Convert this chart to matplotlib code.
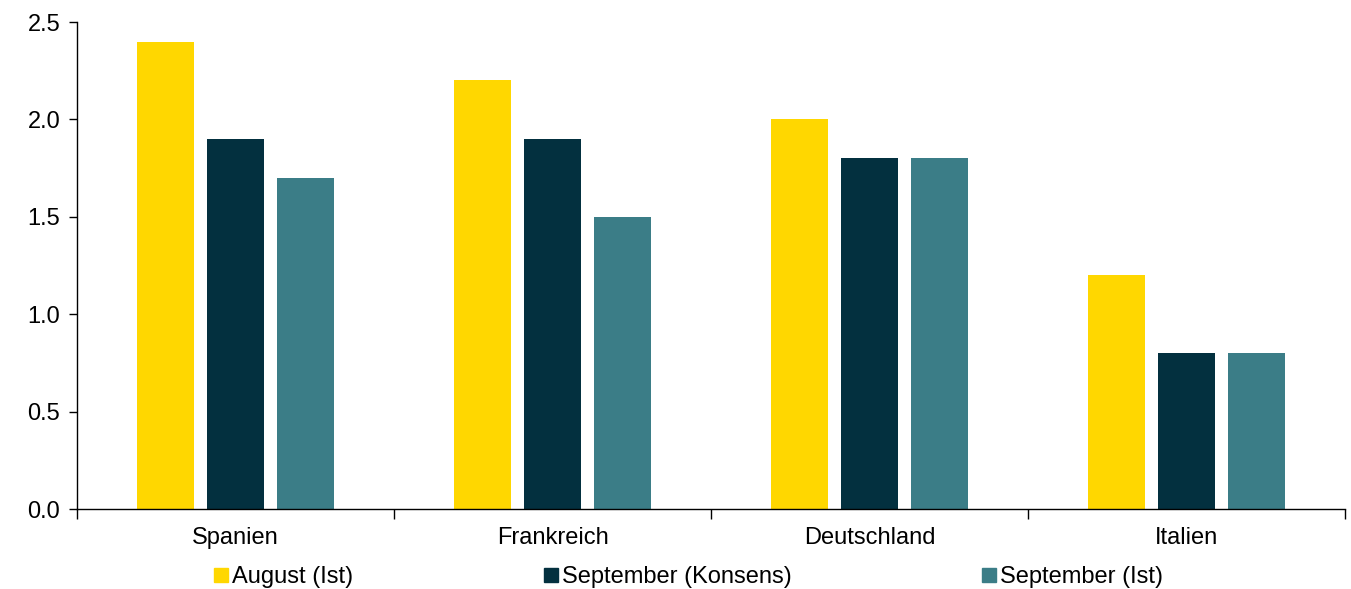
import numpy as np
import matplotlib.pyplot as plt
from matplotlib.lines import Line2D

plt.rcParams["font.family"] = ["Liberation Sans", "DejaVu Sans"]

countries = ["Spanien", "Frankreich", "Deutschland", "Italien"]
series_names = ["August (Ist)", "September (Konsens)", "September (Ist)"]
august_ist = [2.4, 2.2, 2.0, 1.2]
september_konsens = [1.9, 1.9, 1.8, 0.8]
september_ist = [1.7, 1.5, 1.8, 0.8]
colors = ["#FFD700", "#03303F", "#3B7D87"]

fig = plt.figure(figsize=(13.51, 5.89), dpi=100)
ax = fig.add_axes([0.057, 0.1358, 0.9386, 0.8268])

x = np.arange(len(countries))
width = 0.18
pitch = 0.222
for i, (vals, c) in enumerate(zip([august_ist, september_konsens, september_ist], colors)):
    ax.bar(x + (i - 1) * pitch, vals, width=width, color=c, zorder=2)

ax.set_xlim(-0.5, len(countries) - 0.5)
ax.set_ylim(0, 2.5)
ax.set_yticks(np.arange(0, 2.51, 0.5))
ax.set_yticklabels([f"{v:.1f}" for v in np.arange(0, 2.51, 0.5)])
ax.set_xticks(x)
ax.set_xticklabels(countries)
ax.set_xticks(np.arange(-0.5, len(countries), 1), minor=True)
ax.tick_params(axis="x", which="major", length=0, pad=13, labelsize=17)
ax.tick_params(axis="x", which="minor", length=7, width=1, direction="out")
ax.tick_params(axis="y", length=6, width=1, direction="out", labelsize=17, pad=6)

for s in ["top", "right"]:
    ax.spines[s].set_visible(False)
ax.spines["left"].set_linewidth(1)
ax.spines["bottom"].set_linewidth(1)

handles = [Line2D([], [], marker="s", linestyle="none", markersize=10.5, color=c) for c in colors]
fig.legend(handles, series_names, loc="lower left", bbox_to_anchor=(0.1437, -0.03),
           ncol=3, frameon=False, fontsize=17, handlelength=0.7, handletextpad=0.12,
           columnspacing=8.0, borderpad=0.3)

fig.savefig("out.png", dpi=100)
